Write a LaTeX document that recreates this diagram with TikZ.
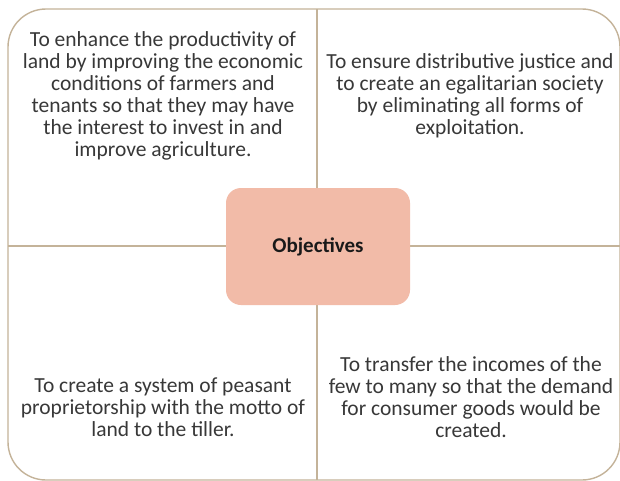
\documentclass[tikz,border=0pt]{standalone}
\usepackage{fontspec}
\setmainfont{Carlito}
\definecolor{frameline}{HTML}{C4B399}
\definecolor{hubfill}{HTML}{F2BBA8}
\definecolor{bodytext}{HTML}{383838}
\begin{document}
\begin{tikzpicture}[x=1pt,y=-1pt,
  quadtext/.style={align=center, text=bodytext, inner sep=0pt,
    font=\fontsize{21.5}{22}\selectfont},
  hub/.style={draw=none, fill=hubfill, rounded corners=15pt,
    minimum width=184pt, minimum height=117pt, inner sep=0pt,
    font=\fontsize{21}{22}\selectfont\bfseries, text=black!90},
  frame/.style={draw=frameline, line width=1.4pt}]
  \useasboundingbox[fill=white] (0,0) rectangle (620,480);

  % outer frame and the two dividers
  \draw[frame, rounded corners=38pt] (8,9) rectangle (620,480);
  \coordinate (ntop) at (317,9);
  \coordinate (nbot) at (317,480);
  \coordinate (wleft) at (8,246);
  \coordinate (wright) at (620,246);
  \draw[frame] (ntop) -- (nbot);
  \draw[frame] (wleft) -- (wright);

  % central hub
  \node[hub] (hub) at (318,246.5) {Objectives};

  % quadrant texts
  \node[quadtext] (tl) at (163,96) {To enhance the productivity of\\
    land by improving the economic\\ conditions of farmers and\\
    tenants so that they may have\\ the interest to invest in and\\
    improve agriculture.};
  \node[quadtext] (tr) at (470,96) {To ensure distributive justice and\\
    to create an egalitarian society\\ by eliminating all forms of\\
    exploitation.};
  \node[quadtext] (bl) at (163,407) {To create a system of peasant\\
    proprietorship with the motto of\\ land to the tiller.};
  \node[quadtext] (br) at (471,397) {To transfer the incomes of the\\
    few to many so that the demand\\ for consumer goods would be\\
    created.};
\end{tikzpicture}
\end{document}
